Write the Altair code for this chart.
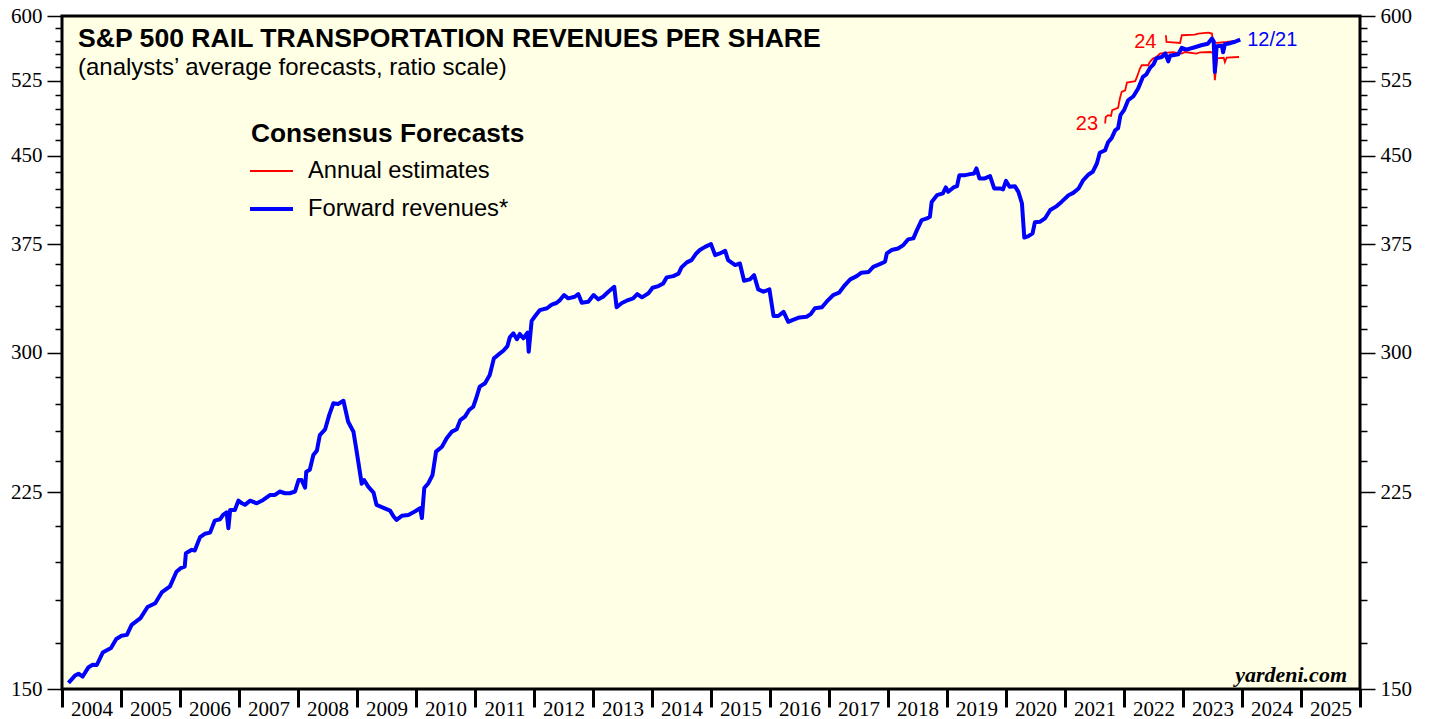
import altair as alt
import pandas as pd

# ---------------- data (decimal years, revenues per share) ----------------
blue_t = [2004.11, 2004.22, 2004.28, 2004.35, 2004.45, 2004.52, 2004.59, 2004.69, 2004.83, 2004.92,
          2005.01, 2005.10, 2005.18, 2005.33, 2005.45, 2005.58, 2005.69, 2005.83, 2005.94, 2006.01,
          2006.08, 2006.10, 2006.20, 2006.25, 2006.34, 2006.42, 2006.51, 2006.59, 2006.68, 2006.73,
          2006.79, 2006.82, 2006.85, 2006.93, 2006.99, 2007.05, 2007.10, 2007.19, 2007.30, 2007.41,
          2007.53, 2007.61, 2007.69, 2007.78, 2007.86, 2007.95, 2008.01, 2008.06, 2008.12, 2008.14,
          2008.20, 2008.26, 2008.32, 2008.37, 2008.46, 2008.53, 2008.60, 2008.68, 2008.77, 2008.85,
          2008.94, 2008.99, 2009.08, 2009.12, 2009.19, 2009.28, 2009.33, 2009.42, 2009.56, 2009.62,
          2009.67, 2009.76, 2009.87, 2009.98, 2010.07, 2010.10, 2010.14, 2010.21, 2010.28, 2010.34,
          2010.44, 2010.52, 2010.61, 2010.69, 2010.75, 2010.83, 2010.90, 2010.97, 2011.02, 2011.08,
          2011.17, 2011.25, 2011.32, 2011.39, 2011.48, 2011.55, 2011.59, 2011.65, 2011.71, 2011.76,
          2011.82, 2011.89, 2011.91, 2011.96, 2012.02, 2012.10, 2012.22, 2012.30, 2012.38, 2012.44,
          2012.51, 2012.58, 2012.69, 2012.75, 2012.81, 2012.92, 2013.01, 2013.09, 2013.17, 2013.26,
          2013.36, 2013.40, 2013.49, 2013.57, 2013.68, 2013.75, 2013.83, 2013.94, 2014.01, 2014.11,
          2014.19, 2014.25, 2014.36, 2014.45, 2014.50, 2014.59, 2014.67, 2014.75, 2014.81, 2014.90,
          2015.00, 2015.07, 2015.15, 2015.24, 2015.29, 2015.41, 2015.49, 2015.56, 2015.66, 2015.73,
          2015.80, 2015.89, 2015.99, 2016.06, 2016.14, 2016.23, 2016.31, 2016.39, 2016.50, 2016.62,
          2016.69, 2016.76, 2016.88, 2016.96, 2017.07, 2017.17, 2017.27, 2017.36, 2017.47, 2017.55,
          2017.67, 2017.75, 2017.86, 2017.95, 2017.98, 2018.06, 2018.17, 2018.26, 2018.34, 2018.43,
          2018.49, 2018.57, 2018.66, 2018.71, 2018.74, 2018.83, 2018.93, 2018.98, 2019.02, 2019.11,
          2019.17, 2019.21, 2019.31, 2019.39, 2019.46, 2019.50, 2019.55, 2019.64, 2019.73, 2019.80,
          2019.90, 2019.95, 2020.00, 2020.06, 2020.15, 2020.21, 2020.27, 2020.31, 2020.38, 2020.45,
          2020.49, 2020.58, 2020.66, 2020.75, 2020.86, 2020.94, 2021.06, 2021.14, 2021.23, 2021.31,
          2021.40, 2021.47, 2021.54, 2021.59, 2021.68, 2021.73, 2021.79, 2021.85, 2021.90, 2021.94,
          2022.00, 2022.07, 2022.16, 2022.24, 2022.32, 2022.38, 2022.44, 2022.50, 2022.55, 2022.64,
          2022.70, 2022.75, 2022.78, 2022.92, 2022.98, 2023.06, 2023.20, 2023.31, 2023.42, 2023.49,
          2023.52, 2023.54, 2023.57, 2023.66, 2023.68, 2023.71, 2023.80, 2023.88, 2023.97]

blue_v = [151.9, 154.2, 154.8, 153.9, 156.9, 157.7, 157.6, 161.7, 163.2, 166.3,
          167.4, 167.7, 171.2, 173.6, 177.6, 179.0, 183.0, 185.3, 191.0, 192.4,
          193.0, 198.4, 199.8, 199.5, 205.1, 206.5, 207.0, 212.2, 212.8, 214.7,
          215.8, 208.9, 216.9, 216.9, 221.1, 219.9, 219.2, 221.1, 219.9, 221.4,
          223.7, 223.7, 225.3, 224.5, 224.5, 225.3, 230.7, 230.7, 227.1, 234.7,
          235.6, 242.9, 245.1, 253.1, 256.1, 263.8, 270.2, 269.8, 271.6, 260.1,
          254.8, 245.5, 228.9, 230.7, 227.6, 224.8, 219.2, 218.2, 216.6, 214.0,
          212.5, 214.3, 214.7, 216.2, 217.7, 213.3, 226.9, 229.2, 233.1, 244.6,
          247.1, 251.4, 254.9, 256.1, 261.0, 262.9, 266.5, 268.3, 273.0, 279.6,
          281.6, 286.4, 296.4, 298.5, 301.1, 304.0, 309.5, 312.1, 308.3, 311.7,
          308.9, 312.5, 300.5, 320.2, 323.4, 327.4, 328.6, 331.1, 332.2, 334.2,
          337.7, 335.4, 336.5, 338.4, 332.4, 333.1, 337.7, 334.7, 336.5, 340.0,
          343.5, 329.3, 332.2, 333.8, 335.4, 338.4, 336.1, 338.9, 342.8, 344.0,
          345.9, 350.2, 351.1, 352.9, 357.5, 361.2, 362.9, 367.9, 370.5, 372.9,
          375.0, 366.6, 367.9, 369.9, 362.9, 359.2, 360.4, 347.8, 348.8, 351.8,
          341.7, 340.0, 341.7, 323.4, 323.4, 326.2, 319.6, 320.8, 322.5, 322.9,
          324.7, 328.6, 329.3, 333.1, 337.7, 339.3, 344.7, 348.8, 351.1, 353.6,
          354.1, 357.9, 359.9, 361.7, 367.9, 370.5, 371.7, 374.3, 378.7, 379.5,
          386.0, 394.1, 395.4, 396.7, 409.1, 414.8, 416.3, 421.5, 417.7, 421.5,
          422.6, 432.3, 432.3, 433.2, 433.8, 438.3, 429.4, 429.4, 431.4, 420.6,
          420.6, 419.8, 427.2, 422.0, 422.6, 417.7, 408.0, 380.1, 381.3, 383.4,
          392.4, 392.8, 395.4, 402.3, 405.6, 409.1, 414.8, 416.8, 420.6, 427.9,
          432.9, 435.3, 442.8, 452.7, 455.1, 462.6, 466.5, 474.1, 476.2, 489.1,
          494.2, 504.4, 508.6, 516.7, 529.2, 532.1, 539.1, 543.2, 550.0, 551.4,
          555.6, 546.5, 552.8, 554.5, 562.0, 559.9, 562.6, 564.9, 566.7, 572.8,
          569.5, 534.7, 563.7, 564.3, 556.8, 566.1, 567.3, 569.0, 571.6]

red23_t = [2021.68, 2021.69, 2021.73, 2021.78, 2021.80, 2021.90, 2021.93, 2021.96, 2022.02, 2022.05,
           2022.19, 2022.22, 2022.27, 2022.30, 2022.41, 2022.44, 2022.49, 2022.55, 2022.61, 2022.69,
           2022.83, 2022.98, 2023.03, 2023.23, 2023.29, 2023.46, 2023.51, 2023.54, 2023.58, 2023.69,
           2023.71, 2023.74, 2023.95]
red23_v = [480.8, 487.4, 489.1, 488.4, 494.2, 496.5, 506.2, 513.2, 514.9, 523.2,
           524.6, 529.2, 538.5, 542.1, 542.1, 545.9, 549.6, 551.4, 555.3, 556.2,
           556.8, 555.3, 557.1, 555.3, 556.8, 557.1, 556.2, 525.7, 550.0, 550.5,
           545.6, 550.8, 551.4]

red24_t = [2022.71, 2022.72, 2022.95, 2022.98, 2023.20, 2023.26, 2023.43, 2023.49, 2023.51, 2023.57,
           2023.74, 2023.95]
red24_v = [576.7, 568.7, 567.6, 576.7, 577.5, 578.7, 579.9, 578.7, 568.7, 567.6,
           568.7, 570.7]

year_ticks = list(range(2004, 2027))
year_label_pos = [y + 0.5 for y in range(2004, 2026)]
y_ticks = list(range(150, 601, 15))

title_text = "S&P 500 RAIL TRANSPORTATION REVENUES PER SHARE"
subtitle_text = "(analysts\u2019 average forecasts, ratio scale)"

# ---------------- frames ----------------
blue = pd.DataFrame({"t": blue_t, "v": blue_v})
red = pd.DataFrame({
    "t": red23_t + red24_t,
    "v": red23_v + red24_v,
    "s": ["2023"] * len(red23_t) + ["2024"] * len(red24_t),
})

xscale = alt.Scale(domain=[2004, 2026], nice=False, zero=False)
yscale = alt.Scale(type="log", domain=[150, 600], nice=False)

SERIF = "Liberation Serif"
SANS = "Liberation Sans"

x_tick_axis = alt.Axis(orient="bottom", values=year_ticks, labels=False, tickSize=18,
                       tickWidth=3, tickColor="black", domain=False, grid=False, title=None)
x_label_axis = alt.Axis(orient="bottom", values=year_label_pos, ticks=False, tickSize=0,
                        labelExpr="'' + floor(datum.value)", labelPadding=9,
                        labelFont=SERIF, labelFontSize=21, labelColor="black",
                        labelOverlap=False, labelFlush=False, domain=False, grid=False, title=None)

major = "datum.value % 75 == 0"


def y_axis(orient):
    return alt.Axis(orient=orient, values=y_ticks,
                    labelExpr=major + " ? format(datum.value, 'd') : ''",
                    tickSize={"condition": {"test": major, "value": 15}, "value": 7},
                    tickWidth=1.5, tickColor="black", labelPadding=5,
                    labelFont=SERIF, labelFontSize=21, labelColor="black",
                    labelOverlap=False, labelFlush=False, domain=False, grid=False, title=None)


red_layer = alt.Chart(red).mark_line(color="#FF0000", strokeWidth=1.8).encode(
    x=alt.X("t:Q", scale=xscale, axis=x_label_axis),
    y=alt.Y("v:Q", scale=yscale, axis=y_axis("right")),
    detail="s:N",
)

blue_layer = alt.Chart(blue).mark_line(color="#0000FF", strokeWidth=4, strokeJoin="round").encode(
    x=alt.X("t:Q", scale=xscale, axis=x_tick_axis),
    y=alt.Y("v:Q", scale=yscale, axis=y_axis("left")),
)


def point_label(t, v, text, color, align, dx):
    df = pd.DataFrame({"t": [t], "v": [v], "label": [text]})
    return alt.Chart(df).mark_text(color=color, font=SANS, fontSize=20, align=align,
                                   baseline="middle", dx=dx).encode(
        x=alt.X("t:Q", scale=xscale, axis=None),
        y=alt.Y("v:Q", scale=yscale, axis=None),
        text="label:N",
    )


lab23 = point_label(red23_t[0], red23_v[0], "23", "#FF0000", "right", -7)
lab24 = point_label(red24_t[1], red24_v[1], "24", "#FF0000", "right", -10)
lab1221 = point_label(blue_t[-1], blue_v[-1], "12/21", "#0000FF", "left", 7)

one = alt.Data(values=[{"a": 1}])


def static_text(text, x, y, size, weight="normal", style="normal", font=SANS, align="left",
                baseline="middle", color="black"):
    return alt.Chart(one).mark_text(text=text, font=font, fontSize=size, fontWeight=weight,
                                    fontStyle=style, align=align, baseline=baseline,
                                    color=color).encode(x=alt.value(x), y=alt.value(y))


title = static_text(title_text, 16, 22.5, 26.6, weight="bold")
subtitle = static_text(subtitle_text, 16, 51.5, 24)
leg_title = static_text("Consensus Forecasts", 189, 118, 26.3, weight="bold")
leg_red_txt = static_text("Annual estimates", 246, 155, 23.7)
leg_blue_txt = static_text("Forward revenues*", 246, 193, 23.7)
brand = static_text("yardeni.com", 1285, 666, 22, weight="bold", style="italic", font=SERIF,
                    align="right", baseline="alphabetic")

leg_red_line = alt.Chart(one).mark_rule(color="#FF0000", strokeWidth=1.8).encode(
    x=alt.value(188), x2=alt.value(231), y=alt.value(155))
leg_blue_line = alt.Chart(one).mark_rule(color="#0000FF", strokeWidth=4).encode(
    x=alt.value(188), x2=alt.value(231), y=alt.value(193))

chart = alt.layer(
    red_layer, blue_layer, lab23, lab24, lab1221,
    title, subtitle, leg_title, leg_red_txt, leg_blue_txt, leg_red_line, leg_blue_line, brand,
).resolve_axis(x="independent", y="independent").properties(
    width=1298, height=673,
    background="white",
    autosize=alt.AutoSizeParams(type="none"),
    padding={"left": 54, "top": 8, "right": 60, "bottom": 30},
).configure_view(
    fill="#FFFFE6", stroke="black", strokeWidth=3,
)

chart.save("out.html", embed_options={"renderer": "svg", "actions": False})
